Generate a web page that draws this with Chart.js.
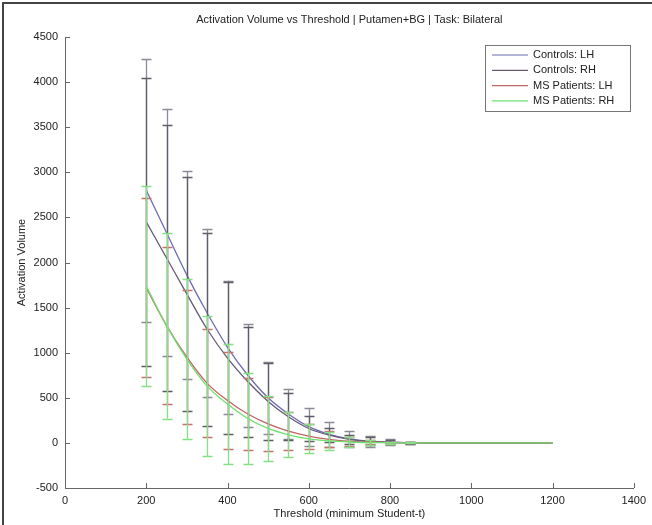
<!DOCTYPE html>
<html>
<head>
<meta charset="utf-8">
<script src="https://cdn.jsdelivr.net/npm/chart.js@4.4.1/dist/chart.umd.min.js"></script>
<style>
  html, body { margin: 0; padding: 0; background: #fff; }
  #wrap { width: 652px; height: 525px; position: relative; }
</style>
</head>
<body>
<div id="wrap"><canvas id="c" width="652" height="525"></canvas></div>
<script>
// Thresholds (minimum Student-t)
const thresholds = [200,250,300,350,400,450,500,550,600,650,700,750,800,850,900,950,1000,1050,1100,1150,1200];

// Mean activation volumes
const ctrlLH = [2800,2330,1860,1440,1060,750,500,320,180,95,45,20,8,3,0,0,0,0,0,0,0];
const ctrlRH = [2450,2050,1650,1260,940,680,460,290,160,85,40,18,7,3,0,0,0,0,0,0,0];
const msLH   = [1720,1300,950,660,470,320,210,130,75,40,20,10,4,1,0,0,0,0,0,0,0];
const msRH   = [1740,1300,930,630,430,270,160,90,45,22,10,4,2,1,0,0,0,0,0,0,0];

// Error bar half-lengths (standard deviation)
const ctrlLHsd = [1460,1370,1150,930,740,570,400,280,210,135,85,60,32,12,0,0,0,0,0,0,0];
const ctrlRHsd = [1600,1470,1300,1070,840,610,430,260,140,75,50,42,23,10,0,0,0,0,0,0,0];
const msLHsd   = [990,870,740,600,535,400,300,210,140,90,50,25,10,4,0,0,0,0,0,0,0];
const msRHsd   = [1110,1030,885,780,665,500,360,250,160,100,60,30,12,4,0,0,0,0,0,0,0];

const seriesLabels = ['Controls: LH','Controls: RH','MS Patients: LH','MS Patients: RH'];
const xTicks = [0,200,400,600,800,1000,1200,1400];
const yTicks = [-500,0,500,1000,1500,2000,2500,3000,3500,4000,4500];

const titleText = 'Activation Volume vs Threshold | Putamen+BG | Task: Bilateral';
const xTitle = 'Threshold (minimum Student-t)';
const yTitle = 'Activation Volume';

const lineColors = ['#6c6cb4','#655a78','#c06464','#6ee06e'];
const barColors  = ['#8c8c98','#5e5e68','#c87070','#84e084'];
const FONT = '"Liberation Sans", Arial, sans-serif';

function pts(arr) { return thresholds.map((x,i)=>({x:x, y:arr[i]})); }
const means = [ctrlLH, ctrlRH, msLH, msRH];
const sds = [ctrlLHsd, ctrlRHsd, msLHsd, msRHsd];

const datasets = means.map((m,i)=>({
  label: seriesLabels[i],
  data: pts(m),
  borderColor: lineColors[i],
  backgroundColor: lineColors[i],
  borderWidth: 1.3,
  pointRadius: 0,
  fill: false,
  cubicInterpolationMode: 'monotone',
  order: 4 - i,
  sd: sds[i],
  barColor: barColors[i]
}));

const decor = {
  id: 'decor',
  afterDatasetDraw(chart, args) {
    const ds = chart.data.datasets[args.index];
    const xs = chart.scales.x, ys = chart.scales.y;
    const ctx = chart.ctx;
    ctx.save();
    ctx.strokeStyle = ds.barColor;
    ctx.lineWidth = 1.3;
    ds.data.forEach((p,i)=>{
      const s = ds.sd[i];
      if (!s) return;
      const px = Math.round(xs.getPixelForValue(p.x)) + 0.5;
      const yt = ys.getPixelForValue(p.y + s);
      const yb = ys.getPixelForValue(p.y - s);
      ctx.beginPath();
      ctx.moveTo(px, yt); ctx.lineTo(px, yb);
      ctx.moveTo(px-5, Math.round(yt)+0.5); ctx.lineTo(px+5, Math.round(yt)+0.5);
      ctx.moveTo(px-5, Math.round(yb)+0.5); ctx.lineTo(px+5, Math.round(yb)+0.5);
      ctx.stroke();
    });
    ctx.restore();
  },
  afterDraw(chart) {
    const ctx = chart.ctx;
    const a = chart.chartArea;
    const xs = chart.scales.x, ys = chart.scales.y;
    ctx.save();
    // inward tick marks
    ctx.strokeStyle = '#666';
    ctx.lineWidth = 1;
    ctx.beginPath();
    xTicks.forEach(v=>{
      const px = Math.round(xs.getPixelForValue(v)) + 0.5;
      ctx.moveTo(px, a.bottom); ctx.lineTo(px, a.bottom - 5);
    });
    yTicks.forEach(v=>{
      const py = Math.round(ys.getPixelForValue(v)) + 0.5;
      ctx.moveTo(a.left, py); ctx.lineTo(a.left + 5, py);
    });
    ctx.stroke();

    // texts
    ctx.fillStyle = '#222';
    ctx.font = '11px ' + FONT;
    ctx.textAlign = 'center';
    ctx.textBaseline = 'middle';
    ctx.fillText(titleText, (a.left + a.right)/2, 20);
    ctx.fillText(xTitle, (a.left + a.right)/2, 514);
    ctx.save();
    ctx.translate(22, (a.top + a.bottom)/2);
    ctx.rotate(-Math.PI/2);
    ctx.fillText(yTitle, 0, 0);
    ctx.restore();

    // legend
    const lx = 485, ly = 45, lw = 145, lh = 66;
    ctx.fillStyle = '#fff';
    ctx.fillRect(lx, ly, lw, lh);
    ctx.strokeStyle = '#777';
    ctx.strokeRect(lx + 0.5, ly + 0.5, lw, lh);
    ctx.textAlign = 'left';
    chart.data.datasets.forEach((ds,i)=>{
      const yy = ly + 10 + i * 15.3;
      ctx.strokeStyle = ds.borderColor;
      ctx.lineWidth = 1.2;
      ctx.beginPath();
      ctx.moveTo(lx + 7, yy); ctx.lineTo(lx + 43, yy);
      ctx.stroke();
      ctx.fillStyle = '#222';
      ctx.fillText(ds.label, lx + 48, yy);
    });

    // figure frame
    ctx.strokeStyle = '#444';
    ctx.lineWidth = 2;
    ctx.beginPath();
    ctx.moveTo(3, 525); ctx.lineTo(3, 3); ctx.lineTo(652, 3);
    ctx.stroke();
    ctx.restore();
  }
};

new Chart(document.getElementById('c'), {
  type: 'line',
  data: { datasets },
  options: {
    responsive: false,
    animation: false,
    events: [],
    layout: { padding: { top: 37, right: 11, left: 0, bottom: 0 } },
    plugins: { legend: { display: false }, title: { display: false }, tooltip: { enabled: false } },
    scales: {
      x: {
        type: 'linear', min: 0, max: 1400,
        afterFit(s) { s.height = 37; },
        afterBuildTicks(s) { s.ticks = xTicks.map(v=>({value:v})); },
        grid: { display: false, drawTicks: false },
        border: { display: true, color: '#666', width: 1 },
        ticks: { color: '#222', font: { family: FONT, size: 11 }, padding: 6, maxRotation: 0, callback: v => String(v) }
      },
      y: {
        type: 'linear', min: -500, max: 4500,
        afterFit(s) { s.width = 65; },
        afterBuildTicks(s) { s.ticks = yTicks.map(v=>({value:v})); },
        grid: { display: false, drawTicks: false },
        border: { display: true, color: '#666', width: 1 },
        ticks: { color: '#222', font: { family: FONT, size: 11 }, padding: 7, callback: v => String(v) }
      }
    }
  },
  plugins: [decor]
});
</script>
</body>
</html>
